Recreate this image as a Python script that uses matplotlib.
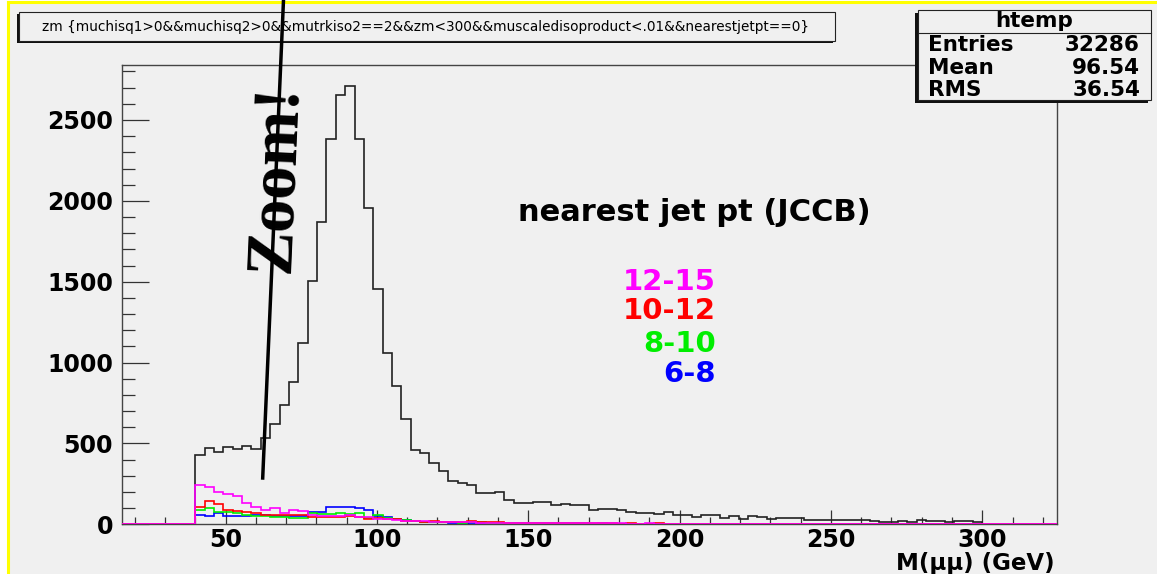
import numpy as np
import matplotlib
matplotlib.use("Agg")
import matplotlib.pyplot as plt
from matplotlib.patches import Rectangle
from matplotlib.lines import Line2D
from matplotlib.ticker import MultipleLocator

# --- data: 84 bins between 40 and 300 GeV ---
x_lo, x_hi, n_bins = 40.0, 300.0, 84
axis_range = (15.8, 324.7)

counts_all = [
    428, 470, 449, 480, 466, 486, 466, 532, 618, 738,
    882, 1119, 1507, 1868, 2383, 2655, 2712, 2383, 1954, 1453,
    1061, 857, 651, 459, 439, 377, 331, 270, 256, 245,
    195, 195, 201, 153, 132, 132, 135, 137, 118, 124,
    118, 118, 87, 93, 93, 87, 77, 70, 70, 62,
    77, 60, 56, 46, 56, 56, 41, 50, 35, 50,
    46, 35, 39, 39, 39, 29, 29, 29, 25, 25,
    25, 25, 21, 17, 17, 21, 14, 25, 21, 21,
    12, 19, 21, 12,
]

counts_12_15 = [
    243, 233, 202, 187, 175, 130, 105, 89, 103, 72,
    89, 82, 58, 52, 52, 52, 58, 47, 43, 31,
    31, 27, 23, 20, 18, 16, 16, 14, 12, 12,
    10, 9, 9, 8, 8, 7, 7, 8, 9, 6,
    6, 5, 5, 7, 5, 6, 4, 4, 5, 3,
    4, 4, 3, 3, 3, 2, 3, 2, 2, 3,
    2, 2, 2, 1, 2, 2, 1, 1, 2, 1,
    1, 1, 1, 1, 1, 1, 0, 1, 1, 0,
    1, 0, 1, 0,
]

counts_10_12 = [
    109, 146, 126, 89, 84, 78, 68, 58, 58, 58,
    58, 58, 47, 43, 43, 47, 52, 47, 33, 37,
    31, 31, 23, 23, 16, 21, 16, 14, 16, 18,
    14, 12, 12, 10, 9, 10, 8, 8, 7, 9,
    6, 6, 5, 6, 5, 4, 5, 3, 4, 6,
    3, 3, 2, 3, 2, 4, 2, 2, 1, 2,
    2, 1, 2, 2, 1, 1, 1, 1, 2, 1,
    1, 0, 1, 1, 0, 1, 0, 1, 0, 1,
    0, 0, 2, 0,
]

counts_8_10 = [
    89, 103, 78, 78, 68, 58, 52, 52, 47, 47,
    41, 41, 72, 62, 62, 68, 62, 68, 41, 58,
    41, 31, 25, 20, 16, 14, 12, 12, 10, 16,
    12, 10, 10, 11, 8, 7, 8, 6, 6, 5,
    6, 5, 4, 5, 4, 4, 3, 4, 3, 3,
    4, 3, 2, 3, 2, 2, 2, 3, 1, 2,
    2, 1, 1, 2, 1, 1, 3, 1, 1, 1,
    1, 1, 0, 1, 1, 0, 1, 0, 1, 0,
    0, 1, 3, 0,
]

counts_6_8 = [
    58, 52, 68, 52, 52, 52, 58, 58, 52, 52,
    52, 52, 78, 78, 109, 109, 109, 103, 89, 52,
    47, 31, 27, 21, 16, 14, 12, 10, 10, 8,
    8, 7, 7, 6, 6, 5, 5, 4, 4, 4,
    3, 4, 3, 2, 3, 2, 3, 2, 2, 1,
    2, 1, 2, 1, 1, 1, 1, 1, 1, 0,
    1, 1, 0, 1, 0, 1, 0, 0, 1, 0,
    0, 1, 0, 0, 1, 0, 0, 0, 0, 1,
    0, 0, 0, 0,
]

series = [
    ("6-8", counts_6_8, "#0000ff"),
    ("8-10", counts_8_10, "#00ee00"),
    ("10-12", counts_10_12, "#ff0000"),
    ("12-15", counts_12_15, "#ff00ff"),
]

title_text = ("zm {muchisq1>0&&muchisq2>0&&mutrkiso2==2&&zm<300&&"
              "muscaledisoproduct<.01&&nearestjetpt==0}")
stats_rows = [("Entries", "32286"), ("Mean", "96.54"), ("RMS", "36.54")]

# --- figure in pixel units ---
W, H = 1157, 574
GREY = "#f0f0f0"


def fx(x):
    return x / W


def fy(y):
    return 1 - y / H


def box(x0, y0, x1, y1, **kw):
    return Rectangle((fx(x0), fy(y1)), fx(x1) - fx(x0), fy(y0) - fy(y1),
                     transform=fig.transFigure, **kw)


fig = plt.figure(figsize=(W / 100, H / 100), dpi=100)
fig.patch.set_facecolor("white")
fig.add_artist(box(7, 2, W, H, facecolor=GREY, edgecolor="none", zorder=-5))
fig.add_artist(Line2D([fx(7.5), fx(7.5)], [fy(H), fy(2)], color="#ffff00",
                      lw=2.2, transform=fig.transFigure, zorder=-4))
fig.add_artist(Line2D([fx(7.5), fx(W)], [fy(2), fy(2)], color="#ffff00",
                      lw=2.2, transform=fig.transFigure, zorder=-4))

ax = fig.add_axes([fx(122), fy(524.3), fx(1057) - fx(122), (524.3 - 65) / H])
ax.set_facecolor("none")

edges = np.linspace(x_lo, x_hi, n_bins + 1)
full_edges = np.concatenate([[axis_range[0]], edges, [axis_range[1]]])


def draw_hist(vals, color, z):
    v = np.concatenate([[0], vals, [0]])
    ax.stairs(v, full_edges, color=color, lw=1.2, zorder=z)


draw_hist(counts_all, "#222222", 2)
for i, (name, vals, col) in enumerate(series):
    draw_hist(vals, col, 3 + i)

ax.set_xlim(*axis_range)
ax.set_ylim(0, 2840)
ax.xaxis.set_major_locator(MultipleLocator(50))
ax.xaxis.set_minor_locator(MultipleLocator(10))
ax.yaxis.set_major_locator(MultipleLocator(500))
ax.yaxis.set_minor_locator(MultipleLocator(100))
ax.tick_params(axis="y", which="major", direction="in", length=19.5,
               width=0.9, color="#333333", pad=6.5, labelsize=17)
ax.tick_params(axis="y", which="minor", direction="in", length=9.5,
               width=0.9, color="#333333")
ax.tick_params(axis="x", which="major", direction="in", length=10,
               width=0.9, color="#333333", pad=3, labelsize=17)
ax.tick_params(axis="x", which="minor", direction="in", length=5,
               width=0.9, color="#333333")
for lab in ax.get_xticklabels() + ax.get_yticklabels():
    lab.set_fontweight("bold")
for sp in ax.spines.values():
    sp.set_color("#444444")
    sp.set_linewidth(1.0)

# axis title
fig.text(fx(1055), fy(563.5), "M(μμ) (GeV)", ha="right", va="center",
         fontsize=16.5, fontweight="bold")

# annotation texts
fig.text(fx(518), fy(212), "nearest jet pt (JCCB)", ha="left", va="center",
         fontsize=22, fontweight="bold")
label_y = {"12-15": 282, "10-12": 311, "8-10": 344, "6-8": 374}
for name, vals, col in series:
    fig.text(fx(716), fy(label_y[name]), name, ha="right", va="center",
             fontsize=21, fontweight="bold", color=col)

# title pave
fig.add_artist(box(17, 14, 833, 43, facecolor="#111111", edgecolor="none",
                   zorder=5))
fig.add_artist(box(19, 12, 835, 41, facecolor=GREY, edgecolor="#222222",
                   lw=0.8, zorder=6))
fig.text(fx(42), fy(27), title_text, ha="left", va="center", fontsize=9.8,
         zorder=7)

# stats pave
fig.add_artist(box(915, 13, 1148, 103, facecolor="#111111", edgecolor="none",
                   zorder=5))
fig.add_artist(box(918, 10, 1151, 100, facecolor=GREY, edgecolor="#222222",
                   lw=0.8, zorder=6))
fig.add_artist(Line2D([fx(918), fx(1151)], [fy(33), fy(33)], color="#222222",
                      lw=0.8, transform=fig.transFigure, zorder=7))
fig.text(fx(1034), fy(21), "htemp", ha="center", va="center", fontsize=15.5,
         fontweight="bold", zorder=7)
for (key, val), yy in zip(stats_rows, [45, 68, 90]):
    fig.text(fx(928), fy(yy), key, ha="left", va="center", fontsize=15.5,
             fontweight="bold", zorder=7)
    fig.text(fx(1140), fy(yy), val, ha="right", va="center", fontsize=15.5,
             fontweight="bold", zorder=7)

# the hand-drawn "Zoom!" marker
fig.add_artist(Line2D([fx(262.7), fx(283.5)], [fy(478), fy(0)], color="black",
                      lw=2.5, transform=fig.transFigure, zorder=8))
fig.text(fx(276), fy(178), "Zoom!", rotation=87.5, ha="center", va="center",
         fontsize=48, fontweight="bold", family="Liberation Serif", zorder=8)

fig.savefig("out.png", dpi=100)
